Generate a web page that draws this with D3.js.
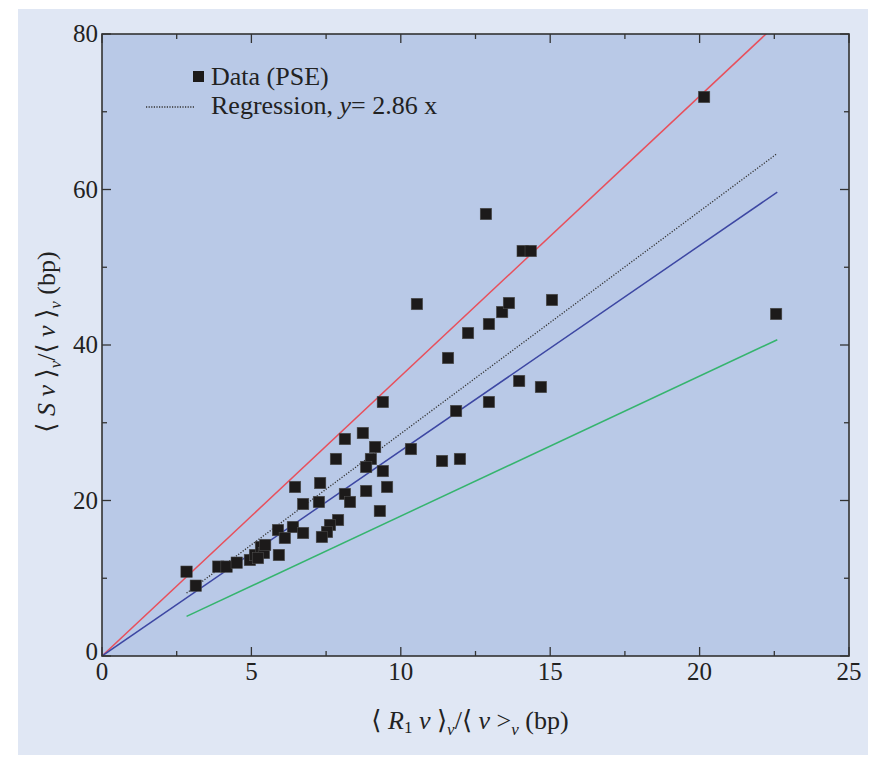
<!DOCTYPE html>
<html><head><meta charset="utf-8">
<script src="https://cdn.jsdelivr.net/npm/d3@7"></script>
<style>html,body{margin:0;padding:0;background:#fff;}svg{display:block;}</style>
</head><body>
<svg id="c" width="871" height="757"></svg>
<script>
// Data (PSE) points
const xValues = [2.83,3.14,3.89,4.17,4.51,4.95,5.12,5.32,5.42,5.22,5.92,5.46,5.89,6.12,6.39,6.73,6.46,7.30,6.73,7.26,8.13,8.30,8.84,9.54,9.30,7.90,7.63,7.53,7.36,7.83,8.13,8.73,9.14,9.00,8.84,9.40,10.34,9.40,10.54,11.58,11.85,11.38,11.98,12.25,12.95,12.95,13.39,13.62,12.85,14.08,14.35,13.96,14.69,15.06,20.15,22.56];
const yValues = [10.84,9.04,11.49,11.49,12.0,12.35,12.99,14.02,13.25,12.6,12.99,14.28,16.2,15.18,16.59,15.82,21.74,22.25,19.55,19.81,20.84,19.81,21.22,21.74,18.65,17.49,16.85,15.95,15.31,25.34,27.91,28.68,26.88,25.34,24.31,23.79,26.62,32.67,45.27,38.33,31.51,25.08,25.34,41.54,42.70,32.67,44.24,45.40,56.85,52.09,52.09,35.37,34.60,45.79,71.9,43.99];
// Lines y = slope * x over [x0, x1]
const lineNames = ["red","blue","green","regression"];
const lineSlopes = [3.6, 2.64, 1.8, 2.86];
const lineStart = [0, 0, 2.83, 2.83];
const lineEnd = [25, 22.6, 22.6, 22.6];
const lineColors = ["#e8505c","#3d47a3","#35b46e","#333333"];
const xTicks = [0,5,10,15,20,25];
const yTicks = [0,20,40,60,80];

const svg = d3.select("#c");
const m = {left:102, right:849, top:34, bottom:656};

svg.append("rect").attr("x",18).attr("y",9).attr("width",850).attr("height",746).attr("fill","#e0e7f4");

const x = d3.scaleLinear().domain([0,25]).range([m.left,m.right]);
const y = d3.scaleLinear().domain([0,80]).range([m.bottom,m.top]);

svg.append("rect").attr("x",m.left).attr("y",m.top).attr("width",m.right-m.left).attr("height",m.bottom-m.top).attr("fill","#b9c9e7");

svg.append("clipPath").attr("id","clip").append("rect").attr("x",m.left).attr("y",m.top).attr("width",m.right-m.left).attr("height",m.bottom-m.top);

const g = svg.append("g").attr("clip-path","url(#clip)");
lineNames.forEach((n,i)=>{
  const pts = [[lineStart[i], lineSlopes[i]*lineStart[i]],[lineEnd[i], lineSlopes[i]*lineEnd[i]]];
  const p = g.append("path").attr("d", d3.line().x(d=>x(d[0])).y(d=>y(d[1]))(pts))
    .attr("fill","none").attr("stroke",lineColors[i]).attr("stroke-width",1.5);
  if(n==="regression") p.attr("stroke-dasharray","1.2,1.6").attr("stroke-width",1.3);
});

g.selectAll("rect.pt").data(xValues.map((v,i)=>[v,yValues[i]])).enter().append("rect")
  .attr("class","pt").attr("x",d=>x(d[0])-5.75).attr("y",d=>y(d[1])-5.75).attr("width",11.5).attr("height",11.5)
  .attr("fill","#1c1a1a").attr("stroke","#555").attr("stroke-width",0.5);

// Axes with inward ticks
const tickColor = "#333";
const xMinor = d3.range(2.5,25,5);
const yMinor = d3.range(10,80,20);
const axG = svg.append("g").attr("stroke",tickColor).attr("stroke-width",1.3);
xTicks.forEach(t=>{ axG.append("line").attr("x1",x(t)).attr("x2",x(t)).attr("y1",m.bottom).attr("y2",m.bottom-9);
  axG.append("line").attr("x1",x(t)).attr("x2",x(t)).attr("y1",m.top).attr("y2",m.top+9);});
xMinor.forEach(t=>{ axG.append("line").attr("x1",x(t)).attr("x2",x(t)).attr("y1",m.bottom).attr("y2",m.bottom-5);
  axG.append("line").attr("x1",x(t)).attr("x2",x(t)).attr("y1",m.top).attr("y2",m.top+5);});
yTicks.forEach(t=>{ axG.append("line").attr("y1",y(t)).attr("y2",y(t)).attr("x1",m.left).attr("x2",m.left+9);
  axG.append("line").attr("y1",y(t)).attr("y2",y(t)).attr("x1",m.right).attr("x2",m.right-9);});
yMinor.forEach(t=>{ axG.append("line").attr("y1",y(t)).attr("y2",y(t)).attr("x1",m.left).attr("x2",m.left+5);
  axG.append("line").attr("y1",y(t)).attr("y2",y(t)).attr("x1",m.right).attr("x2",m.right-5);});
svg.append("rect").attr("x",m.left).attr("y",m.top).attr("width",m.right-m.left).attr("height",m.bottom-m.top)
  .attr("fill","none").attr("stroke","#333").attr("stroke-width",1.6);

const font = "'Liberation Serif', 'DejaVu Serif', serif";
svg.append("g").selectAll("text").data(xTicks).enter().append("text")
  .attr("x",d=>x(d)).attr("y",m.bottom+24).attr("text-anchor","middle")
  .attr("font-family",font).attr("font-size",25).attr("fill","#222").text(d=>d);
svg.append("g").selectAll("text").data(yTicks).enter().append("text")
  .attr("x",m.left-4).attr("y",d=>y(d)+(d===0?4:8)).attr("text-anchor","end")
  .attr("font-family",font).attr("font-size",25).attr("fill","#222").text(d=>d);

// X label
const xl = svg.append("text").attr("x",470).attr("y",729).attr("text-anchor","middle")
  .attr("font-family",font).attr("font-size",26).attr("fill","#222");
xl.append("tspan").text("⟨ ");
xl.append("tspan").attr("font-style","italic").text("R");
xl.append("tspan").attr("font-size",17).attr("dy",4).text("1");
xl.append("tspan").attr("dy",-4).attr("font-style","italic").text(" v");
xl.append("tspan").text(" ⟩");
xl.append("tspan").attr("font-size",17).attr("dy",6).attr("font-style","italic").text("v");
xl.append("tspan").attr("dy",-6).text("/⟨ ");
xl.append("tspan").attr("font-style","italic").text("v");
xl.append("tspan").text(" >");
xl.append("tspan").attr("font-size",17).attr("dy",6).attr("font-style","italic").text("v");
xl.append("tspan").attr("dy",-6).text(" (bp)");

// Y label
const yl = svg.append("text").attr("transform","translate(55,342) rotate(-90)").attr("text-anchor","middle")
  .attr("font-family",font).attr("font-size",26).attr("fill","#222");
yl.append("tspan").text("⟨ ");
yl.append("tspan").attr("font-style","italic").text("S v");
yl.append("tspan").text(" ⟩");
yl.append("tspan").attr("font-size",17).attr("dy",6).attr("font-style","italic").text("v");
yl.append("tspan").attr("dy",-6).text("/⟨ ");
yl.append("tspan").attr("font-style","italic").text("v");
yl.append("tspan").text(" ⟩");
yl.append("tspan").attr("font-size",17).attr("dy",6).attr("font-style","italic").text("v");
yl.append("tspan").attr("dy",-6).text(" (bp)");

// Legend
svg.append("rect").attr("x",193).attr("y",71).attr("width",11).attr("height",11).attr("fill","#1c1a1a");
svg.append("text").attr("x",211).attr("y",85).attr("font-family",font).attr("font-size",26).attr("fill","#222").text("Data (PSE)");
svg.append("line").attr("x1",146).attr("x2",194).attr("y1",107).attr("y2",107).attr("stroke","#333").attr("stroke-width",1.3).attr("stroke-dasharray","1.2,1.4");
const lt = svg.append("text").attr("x",211).attr("y",114).attr("font-family",font).attr("font-size",26).attr("fill","#222");
lt.append("tspan").text("Regression, ");
lt.append("tspan").attr("font-style","italic").text("y");
lt.append("tspan").text("= 2.86 x");
</script>
</body></html>
